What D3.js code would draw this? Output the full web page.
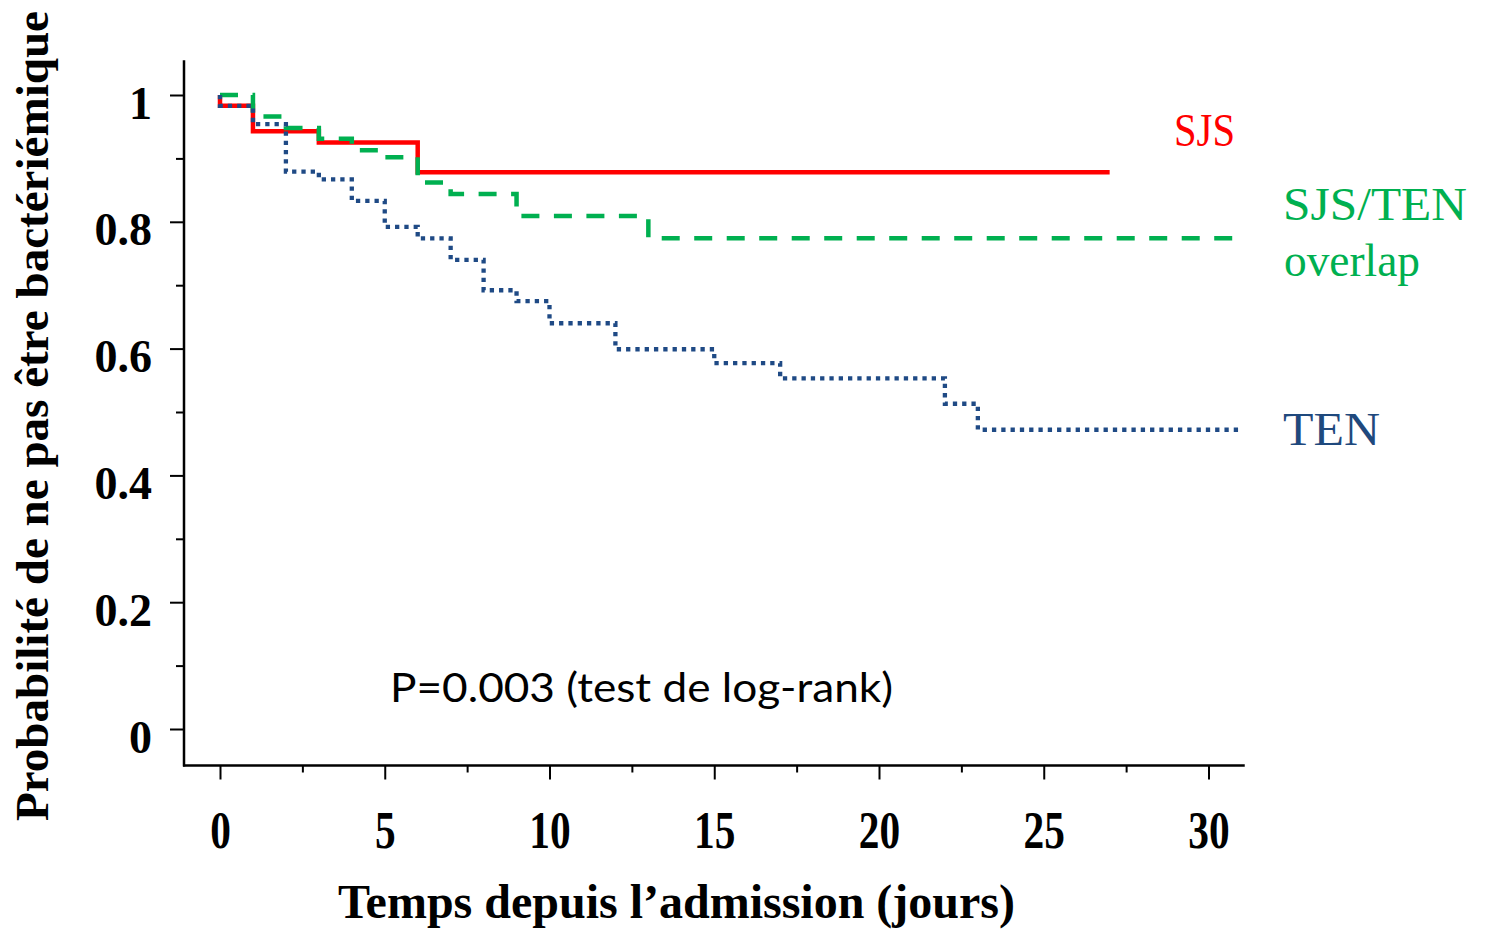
<!DOCTYPE html>
<html>
<head>
<meta charset="utf-8">
<script src="https://cdn.jsdelivr.net/npm/d3@7"></script>
<style>
  html, body { margin: 0; padding: 0; background: #fff; }
  svg { display: block; }
</style>
</head>
<body>
<svg id="chart" width="1489" height="929"></svg>
<script>
// ---- Data ----
const sjsTime  = [0, 0, 1, 3, 6, 27];
const sjsSurv  = [1, 0.983, 0.943, 0.925, 0.878, 0.878];

const overlapTime = [0, 1, 2, 3, 4, 5, 6, 7, 9, 13, 31];
const overlapSurv = [1, 0.966, 0.948, 0.931, 0.913, 0.902, 0.862, 0.844, 0.809, 0.774, 0.774];

const tenTime = [0, 0, 1, 2, 3, 4, 5, 6, 7, 8, 9, 10, 12, 15, 17, 22, 23, 31];
const tenSurv = [1, 0.983, 0.954, 0.879, 0.867, 0.833, 0.792, 0.774, 0.740, 0.692, 0.675, 0.640, 0.599, 0.577, 0.553, 0.513, 0.472, 0.472];

const xMajorTicks = [0, 5, 10, 15, 20, 25, 30];
const xMinorTicks = [2.5, 7.5, 12.5, 17.5, 22.5, 27.5];
const yMajorTicks = [0, 0.2, 0.4, 0.6, 0.8, 1];
const yMinorTicks = [0.1, 0.3, 0.5, 0.7, 0.9];
const yTickLabels = ["0", "0.2", "0.4", "0.6", "0.8", "1"];

const seriesNames = ["SJS", "SJS/TEN overlap", "TEN"];
const pValueText = "P=0.003 (test de log-rank)";
const xTitle = "Temps depuis l\u2019admission (jours)";
const yTitle = "Probabilité de ne pas être bactériémique";

// ---- Scales ----
const svg = d3.select("#chart");
const x = d3.scaleLinear().domain([0, 30]).range([220, 1208.5]);
const y = d3.scaleLinear().domain([0, 1]).range([729, 95]);

const serif = "'Liberation Serif', 'Times New Roman', serif";

// ---- Axes ----
const xAxisY = 765.5;
const yAxisX = 184;

const gx = svg.append("g").attr("transform", `translate(0,${xAxisY})`);
gx.call(d3.axisBottom(x).tickValues(xMajorTicks).tickSize(14).tickSizeOuter(0).tickFormat(d3.format("d")));
gx.select(".domain").remove();
gx.selectAll(".tick line").attr("stroke", "#000").attr("stroke-width", 2);
gx.selectAll(".tick text")
  .attr("y", 83).attr("dy", null)
  .attr("fill", "#000")
  .style("font-family", serif).style("font-weight", "bold").style("font-size", "53px")
  .attr("transform", "scale(0.78,1)");

const gxm = svg.append("g").attr("transform", `translate(0,${xAxisY})`);
gxm.call(d3.axisBottom(x).tickValues(xMinorTicks).tickSize(7).tickSizeOuter(0).tickFormat(""));
gxm.select(".domain").remove();
gxm.selectAll(".tick line").attr("stroke", "#000").attr("stroke-width", 2);

const gy = svg.append("g").attr("transform", `translate(${yAxisX},0)`);
gy.call(d3.axisLeft(y).tickValues(yMajorTicks).tickSize(14).tickSizeOuter(0)
  .tickFormat((d, i) => yTickLabels[i]));
gy.select(".domain").remove();
gy.selectAll(".tick line").attr("stroke", "#000").attr("stroke-width", 2);
gy.selectAll(".tick text")
  .attr("x", -32).attr("y", 23).attr("dy", null)
  .attr("fill", "#000")
  .style("font-family", serif).style("font-weight", "bold").style("font-size", "46px");

const gym = svg.append("g").attr("transform", `translate(${yAxisX},0)`);
gym.call(d3.axisLeft(y).tickValues(yMinorTicks).tickSize(8).tickSizeOuter(0).tickFormat(""));
gym.select(".domain").remove();
gym.selectAll(".tick line").attr("stroke", "#000").attr("stroke-width", 2);

// axis lines
svg.append("line")
  .attr("x1", yAxisX).attr("x2", yAxisX)
  .attr("y1", y(1.055)).attr("y2", xAxisY + 1)
  .attr("stroke", "#000").attr("stroke-width", 2.5);
svg.append("line")
  .attr("x1", yAxisX - 1).attr("x2", x(31.1))
  .attr("y1", xAxisY).attr("y2", xAxisY)
  .attr("stroke", "#000").attr("stroke-width", 2.5);

// ---- Curves ----
const line = d3.line().x(d => x(d[0])).y(d => y(d[1])).curve(d3.curveStepAfter);

const series = [
  { time: sjsTime, surv: sjsSurv, color: "#FF0000", dash: null, width: 4.5 },
  { time: overlapTime, surv: overlapSurv, color: "#00B050", dash: "18,14.5", width: 4.5 },
  { time: tenTime, surv: tenSurv, color: "#1F4A85", dash: "4.3,5", width: 4.3 }
];

series.forEach(s => {
  const pts = s.time.map((t, i) => [t, s.surv[i]]);
  svg.append("path")
    .attr("d", line(pts))
    .attr("fill", "none")
    .attr("stroke", s.color)
    .attr("stroke-width", s.width)
    .attr("stroke-dasharray", s.dash)
    .attr("stroke-linecap", "butt");
});

// ---- Series labels ----
svg.append("text").text("SJS")
  .attr("x", 1174).attr("y", 146)
  .attr("textLength", 61).attr("lengthAdjust", "spacingAndGlyphs")
  .attr("fill", "#FF0000")
  .style("font-family", serif).style("font-size", "46px");
svg.append("text").text("SJS/TEN")
  .attr("x", 1283).attr("y", 220)
  .attr("textLength", 184).attr("lengthAdjust", "spacingAndGlyphs")
  .attr("fill", "#00B050")
  .style("font-family", serif).style("font-size", "46px");
svg.append("text").text("overlap")
  .attr("x", 1284).attr("y", 276)
  .attr("textLength", 136).attr("lengthAdjust", "spacingAndGlyphs")
  .attr("fill", "#00B050")
  .style("font-family", serif).style("font-size", "46px");
svg.append("text").text("TEN")
  .attr("x", 1283).attr("y", 445)
  .attr("textLength", 97).attr("lengthAdjust", "spacingAndGlyphs")
  .attr("fill", "#1F497D")
  .style("font-family", serif).style("font-size", "46px");

// ---- P value ----
svg.append("text").text(pValueText)
  .attr("x", 390).attr("y", 702)
  .attr("textLength", 503).attr("lengthAdjust", "spacingAndGlyphs")
  .attr("fill", "#000")
  .style("font-family", "Lato, 'Open Sans', sans-serif").style("font-size", "41px");

// ---- Axis titles ----
svg.append("text").text(xTitle)
  .attr("x", 338).attr("y", 918)
  .attr("textLength", 677).attr("lengthAdjust", "spacingAndGlyphs")
  .attr("fill", "#000")
  .style("font-family", serif).style("font-weight", "bold").style("font-size", "48px");

svg.append("text").text(yTitle)
  .attr("transform", "translate(48,821) rotate(-90)")
  .attr("x", 0).attr("y", 0)
  .attr("textLength", 810).attr("lengthAdjust", "spacingAndGlyphs")
  .attr("fill", "#000")
  .style("font-family", serif).style("font-weight", "bold").style("font-size", "47px");
</script>
</body>
</html>
